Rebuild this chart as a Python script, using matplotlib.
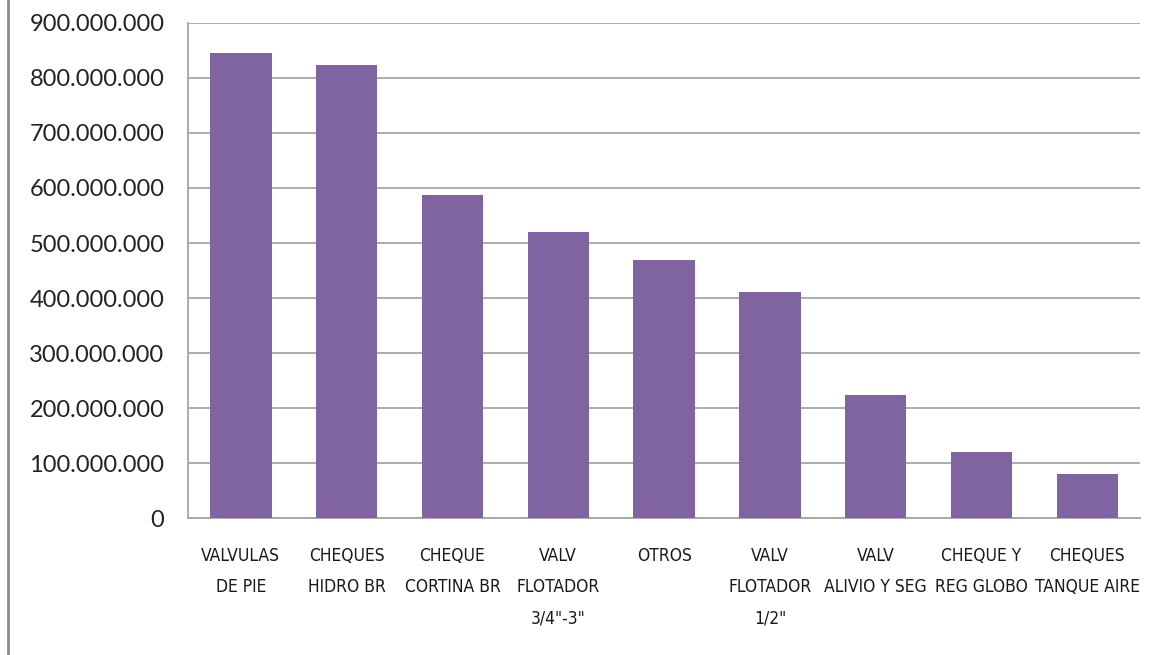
import matplotlib
matplotlib.use("Agg")
import matplotlib.pyplot as plt
from matplotlib.ticker import FuncFormatter, MultipleLocator
from matplotlib.lines import Line2D

categories = ["VALVULAS\nDE PIE", "CHEQUES\nHIDRO BR", "CHEQUE\nCORTINA BR",
              "VALV\nFLOTADOR\n3/4\"-3\"", "OTROS", "VALV\nFLOTADOR\n1/2\"",
              "VALV\nALIVIO Y SEG", "CHEQUE Y\nREG GLOBO", "CHEQUES\nTANQUE AIRE"]
values = [845e6, 824e6, 587e6, 520e6, 469e6, 411e6, 224e6, 120e6, 81e6]

fig = plt.figure(figsize=(11.53, 6.55), dpi=100)
ax = fig.add_axes([0.163, 0.209, 0.826, 0.756])

x = range(len(categories))
ax.bar(x, values, width=0.58, color="#8064A2", zorder=3)

ax.set_xlim(-0.5, len(categories) - 0.5)
ax.set_ylim(0, 900e6)
ax.yaxis.set_major_locator(MultipleLocator(100e6))
ax.yaxis.set_major_formatter(FuncFormatter(lambda v, p: f"{int(v):,}".replace(",", ".")))
ax.grid(axis="y", color="#A6A6A6", linewidth=1.3, zorder=0)

for s in ["top", "right"]:
    ax.spines[s].set_visible(False)
for s in ["left", "bottom"]:
    ax.spines[s].set_color("#A6A6A6")
    ax.spines[s].set_linewidth(1.3)

ax.set_xticks(list(x))
ax.set_xticklabels(categories, family="DejaVu Sans", fontstretch="condensed",
                   fontsize=12.5, linespacing=1.92, color="#1a1a1a")
ax.tick_params(axis="x", length=0, pad=21)
ax.tick_params(axis="y", length=0, pad=17, labelsize=17, labelcolor="#222222")
for lbl in ax.get_yticklabels():
    lbl.set_family(["Lato", "DejaVu Sans"])

# border line at the left edge of the picture
fig.add_artist(Line2D([0.007, 0.007], [0, 1], color="#8C8C8C", linewidth=2))

fig.savefig("out.png", dpi=100)
